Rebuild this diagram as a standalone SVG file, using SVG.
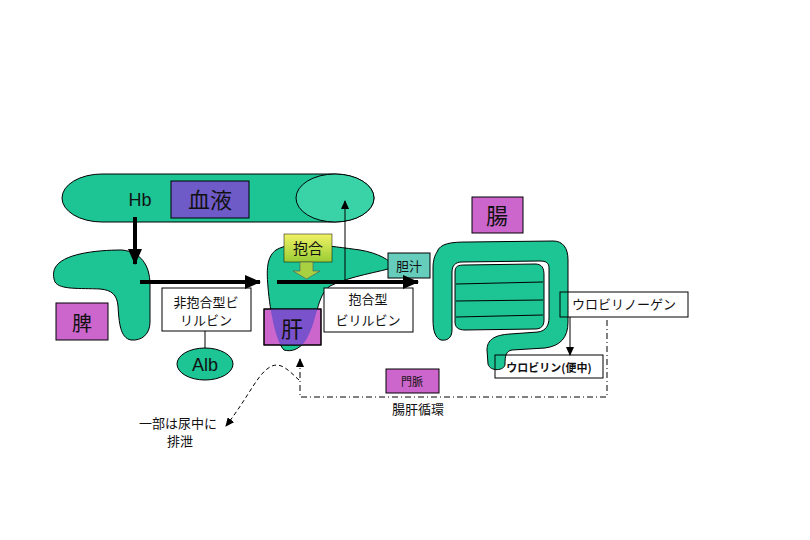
<svg xmlns="http://www.w3.org/2000/svg" width="810" height="540" viewBox="0 0 810 540">
<style>
.org{fill:#1DC494;stroke:#000;stroke-width:1}
.box{fill:#fff;stroke:#000;stroke-width:1}
.tbox{fill:none;stroke:#000;stroke-width:1}
.mag{fill:#CC66CC;stroke:#000;stroke-width:1}
.jp{font-family:"Noto Sans CJK JP","Noto Sans",sans-serif;fill:#111;text-anchor:middle}
.lat{font-family:"Liberation Sans",Arial,sans-serif;fill:#111;text-anchor:middle}
.thick{stroke:#000;stroke-width:4;fill:none}
.thin{stroke:#000;stroke-width:1;fill:none}
</style>
<defs>
<marker id="ah" markerUnits="userSpaceOnUse" markerWidth="16" markerHeight="14" refX="15" refY="7" orient="auto">
<path d="M0,0 L16,7 L0,14 Z" fill="#000"/>
</marker>
<marker id="as" markerUnits="userSpaceOnUse" markerWidth="9" markerHeight="8" refX="8" refY="4" orient="auto">
<path d="M0,0 L9,4 L0,8 Z" fill="#000"/>
</marker>
<linearGradient id="yg" x1="0" y1="0" x2="0" y2="1">
<stop offset="0" stop-color="#F2F266"/>
<stop offset="1" stop-color="#99CC33"/>
</linearGradient>
<clipPath id="kanbox"><rect x="264" y="309" width="57" height="36"/></clipPath>
</defs>
<rect width="810" height="540" fill="#fff"/>

<g id="blood">
<rect class="org" x="62" y="174" width="312" height="48" rx="40" ry="24"/>
<ellipse cx="335" cy="198" rx="39" ry="24" fill="#3AD3A8" stroke="#000" stroke-width="1"/>
<rect x="171" y="181" width="78" height="37" fill="#6F5BC8" stroke="#000" stroke-width="1"/>
<text class="jp" x="210" y="208" font-size="22">血液</text>
<text class="lat" x="140" y="206" font-size="18">Hb</text>
</g>

<g id="spleen">
<path class="org" d="M55,268 C62,254 95,250 122,250 C140,252 150,264 150,285 L150,322 C150,334 142,341 131,340 C120,338 119,322 118,306 C117,295 112,290 100,289 C80,288 60,290 55,282 C53,277 53,272 55,268 Z"/>
<rect class="mag" x="56" y="303" width="52" height="37"/>
<text class="jp" x="82" y="331" font-size="20">脾</text>
</g>

<g id="unconj">
<rect class="box" x="162" y="288" width="89" height="43"/>
<text class="jp" x="206" y="307" font-size="13">非抱合型ビ</text>
<text class="jp" x="206" y="325" font-size="13">リルビン</text>
</g>

<g id="alb">
<ellipse class="org" cx="205" cy="364" rx="28" ry="16"/>
<text class="lat" x="205" y="371" font-size="18">Alb</text>
</g>

<g id="liver">
<path id="liverpath" class="org" d="M276,250 C292,240 330,246 360,250 C378,253 390,260 395,267 C380,272 350,276 330,286 C316,296 318,320 306,340 C299,350 291,352 284,350 C276,342 270,312 268,287 C266,266 268,256 276,250 Z"/>
<rect class="mag" x="264" y="309" width="57" height="36"/>
<path clip-path="url(#kanbox)" fill="#7A52CC" d="M276,250 C292,240 330,246 360,250 C378,253 390,260 395,267 C380,272 350,276 330,286 C316,296 318,320 306,340 C299,350 291,352 284,350 C276,342 270,312 268,287 C266,266 268,256 276,250 Z"/>
<rect class="tbox" x="264" y="309" width="57" height="36"/>
<text class="jp" x="292" y="337" font-size="22">肝</text>
</g>

<g id="conj-step">
<rect x="284" y="234" width="48" height="28" fill="url(#yg)" stroke="#000" stroke-width="0.5"/>
<text class="jp" x="308" y="254" font-size="15">抱合</text>
<path d="M300,262 L313,262 L313,271 L320,271 L306.5,279 L293,271 L300,271 Z" fill="#A8D040" stroke="#555" stroke-width="0.6"/>
</g>

<g id="bile">
<rect x="388" y="253" width="42" height="25" fill="#66CCBB" stroke="#000" stroke-width="1"/>
<text class="jp" x="409" y="271" font-size="13">胆汁</text>
</g>

<g id="conj">
<rect class="box" x="324" y="288" width="89" height="44"/>
<text class="jp" x="368" y="304" font-size="13">抱合型</text>
<text class="jp" x="368" y="325" font-size="13">ビリルビン</text>
</g>

<g id="intestine">
<path class="org" fill-rule="evenodd" d="M437,252 C440,243 452,242 468,242 L553,241 C563,241 568,248 568,260 L568,322 C568,338 560,346 545,348 L512,350 C506,351 505,356 505,364 C505,371 490,372 488,364 L487,350 C487,340 494,335 510,334 L538,332 C546,331 549,325 549,318 L549,268 C549,263 546,261 540,261 L462,262 C455,262 452,266 452,272 L452,330 C452,338 447,341 441,340 C435,338 433,330 433,320 L433,268 C433,260 435,255 437,252 Z"/>
<path class="org" d="M455,272 C455,266 458,265 465,265 L535,264 C542,264 544,268 544,275 L544,320 C544,326 541,329 535,329 L465,330 C458,330 455,327 455,322 Z"/>
<path class="thin" d="M456,284 L543,282 M456,301 L543,300 M456,317 L543,315"/>
<rect class="mag" x="472" y="197" width="51" height="36"/>
<text class="jp" x="497" y="224" font-size="22">腸</text>
</g>

<g id="urobilinogen">
<rect class="tbox" x="560" y="292" width="128" height="25"/>
<text class="jp" x="624" y="309" font-size="13">ウロビリノーゲン</text>
</g>

<g id="urobilin">
<rect class="tbox" x="495" y="355" width="108" height="23"/>
<text class="jp" x="549" y="372" font-size="11" font-weight="bold">ウロビリン(便中)</text>
</g>

<g id="portal">
<rect class="mag" x="386" y="369" width="53" height="24"/>
<text class="jp" x="412" y="386" font-size="11">門脈</text>
</g>

<g id="labels">
<text class="jp" x="418" y="414" font-size="13">腸肝循環</text>
<text class="jp" x="178" y="428" font-size="13">一部は尿中に</text>
<text class="jp" x="180" y="446" font-size="13">排泄</text>
</g>

<g id="connectors">
<line class="thick" x1="135" y1="217" x2="135" y2="264" marker-end="url(#ah)"/>
<line class="thick" x1="140" y1="282" x2="260" y2="282" marker-end="url(#ah)"/>
<line class="thick" x1="277" y1="282" x2="418" y2="282" marker-end="url(#ah)"/>
<line class="thin" x1="345" y1="282" x2="345" y2="201" marker-end="url(#as)"/>
<line class="thin" x1="205" y1="331" x2="205" y2="348"/>
<line class="thin" x1="570" y1="317" x2="570" y2="355" marker-end="url(#as)"/>
<path class="thin" stroke-dasharray="6,3,1,3" d="M607,320 L607,397 L300,397 L300,359" marker-end="url(#as)"/>
<path class="thin" stroke-dasharray="4,3" d="M299,380 C290,372 282,362 272,366 C258,372 250,395 226,426" marker-end="url(#as)"/>
</g>
</svg>
